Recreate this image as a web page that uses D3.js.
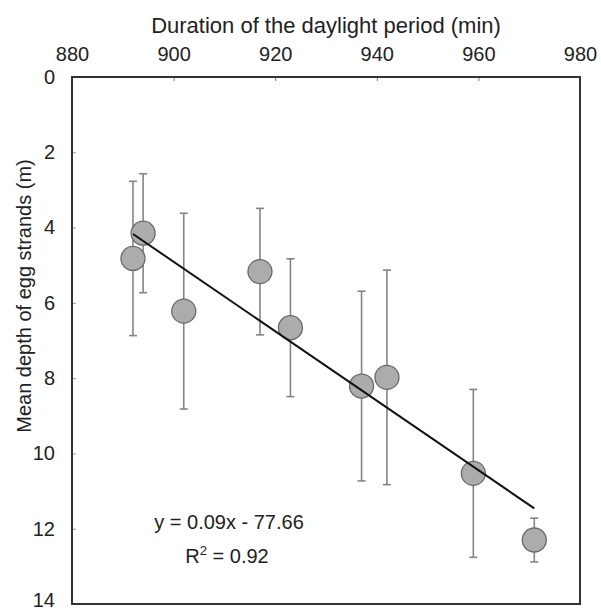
<!DOCTYPE html>
<html>
<head>
<meta charset="utf-8">
<script src="https://cdn.jsdelivr.net/npm/d3@7"></script>
<style>
  body { margin: 0; background: #fff; }
  text { font-family: "Liberation Sans", Arial, sans-serif; fill: #222; }
</style>
</head>
<body>
<div id="chart"></div>
<script>
// daylight duration (min) and mean depth of egg strands (m), with SD
var daylight = [892, 894, 902, 917, 923, 937, 942, 959, 971];
var depth    = [4.82, 4.15, 6.22, 5.17, 6.66, 8.21, 7.98, 10.53, 12.3];
var depthErr = [2.05, 1.58, 2.6, 1.68, 1.83, 2.52, 2.85, 2.23, 0.58];

// fitted line, drawn between its two ends
var fitX = [892, 971];
var fitY = [4.17, 11.46];

var xTicks = [880, 900, 920, 940, 960, 980];
var yTicks = [0, 2, 4, 6, 8, 10, 12, 14];

var width = 601, height = 610;
var margin = {top: 77, right: 21, bottom: 6, left: 72};

var svg = d3.select("#chart")
  .append("svg")
    .attr("width", width)
    .attr("height", height);

var x = d3.scaleLinear()
  .domain([880, 980])
  .range([margin.left, width - margin.right]);

var y = d3.scaleLinear()
  .domain([0, 14])
  .range([margin.top, height - margin.bottom]);

// x axis on top, ticks pointing in
var xAxis = svg.append("g")
  .attr("transform", "translate(0," + margin.top + ")")
  .call(d3.axisTop(x).tickValues(xTicks).tickSizeInner(-4).tickSizeOuter(0).tickPadding(16));
xAxis.select(".domain").remove();
xAxis.selectAll("line").attr("stroke", "#777");
xAxis.selectAll("text")
  .style("font-size", "20px")
  .attr("fill", "#222");

var yAxis = svg.append("g")
  .attr("transform", "translate(" + margin.left + ",0)")
  .call(d3.axisLeft(y).tickValues(yTicks).tickSizeInner(-4).tickSizeOuter(0).tickPadding(17));
yAxis.select(".domain").remove();
yAxis.selectAll("line").attr("stroke", "#999");
yAxis.selectAll("text")
  .style("font-size", "20px")
  .attr("fill", "#222");
// keep the last label inside the window
yAxis.selectAll("text")
  .filter(d => d === 14)
  .attr("dy", "0.12em");

// frame
svg.append("rect")
  .attr("x", x(880))
  .attr("y", y(0))
  .attr("width", x(980) - x(880))
  .attr("height", y(14) - y(0))
  .attr("fill", "none")
  .attr("stroke", "#333")
  .attr("stroke-width", 2);

// axis titles
svg.append("text")
  .attr("x", (x(880) + x(980)) / 2)
  .attr("y", 33)
  .attr("text-anchor", "middle")
  .style("font-size", "22px")
  .text("Duration of the daylight period (min)");

svg.append("text")
  .attr("transform", "translate(31,296) rotate(-90)")
  .attr("text-anchor", "middle")
  .style("font-size", "20px")
  .text("Mean depth of egg strands (m)");

var pts = daylight.map(function(d, i) {
  return {x: d, y: depth[i], e: depthErr[i]};
});

// error bars
var bars = svg.append("g")
  .attr("stroke", "#858585")
  .attr("stroke-width", 1.6);

bars.selectAll(".eb")
  .data(pts)
  .enter().append("line")
    .attr("x1", d => x(d.x))
    .attr("x2", d => x(d.x))
    .attr("y1", d => y(d.y - d.e))
    .attr("y2", d => y(d.y + d.e));

bars.selectAll(".capT")
  .data(pts)
  .enter().append("line")
    .attr("x1", d => x(d.x) - 4)
    .attr("x2", d => x(d.x) + 4)
    .attr("y1", d => y(d.y - d.e))
    .attr("y2", d => y(d.y - d.e));

bars.selectAll(".capB")
  .data(pts)
  .enter().append("line")
    .attr("x1", d => x(d.x) - 4)
    .attr("x2", d => x(d.x) + 4)
    .attr("y1", d => y(d.y + d.e))
    .attr("y2", d => y(d.y + d.e));

// points
svg.append("g")
  .selectAll("circle")
  .data(pts)
  .enter().append("circle")
    .attr("cx", d => x(d.x))
    .attr("cy", d => y(d.y))
    .attr("r", 12)
    .attr("fill", "#acacac")
    .attr("stroke", "#6a6a6a")
    .attr("stroke-width", 1.3);

// regression line
svg.append("path")
  .datum(fitX.map((d, i) => [d, fitY[i]]))
  .attr("fill", "none")
  .attr("stroke", "#111")
  .attr("stroke-width", 2)
  .attr("d", d3.line()
    .x(d => x(d[0]))
    .y(d => y(d[1])));

// equation
svg.append("text")
  .attr("x", 229)
  .attr("y", 529)
  .attr("text-anchor", "middle")
  .style("font-size", "20px")
  .text("y = 0.09x - 77.66");

var r2 = svg.append("text")
  .attr("x", 227)
  .attr("y", 563)
  .attr("text-anchor", "middle")
  .style("font-size", "20px");
r2.append("tspan").text("R");
r2.append("tspan").attr("dy", -8).style("font-size", "13px").text("2");
r2.append("tspan").attr("dy", 8).text(" = 0.92");
</script>
</body>
</html>
